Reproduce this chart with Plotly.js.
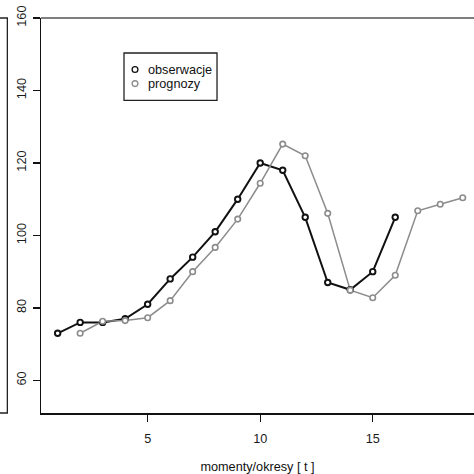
<!DOCTYPE html>
<html>
<head>
<meta charset="utf-8">
<script src="https://cdn.plot.ly/plotly-3.0.1.min.js"></script>
<style>html,body{margin:0;padding:0;background:#fff;}#chart{width:474px;height:474px;}</style>
</head>
<body>
<div id="chart"></div>
<script>
var obsT = [1,2,3,4,5,6,7,8,9,10,11,12,13,14,15,16];
var obsV = [73,76,76,77,81,88,94,101,110,120,118,105,87,85,90,105];
var progT = [2,3,4,5,6,7,8,9,10,11,12,13,14,15,16,17,18,19];
var progV = [73,76.3,76.5,77.3,82,90,96.7,104.5,114.4,125.2,122,106.1,84.9,82.8,89,106.8,108.6,110.4];
var seriesNames = ['obserwacje','prognozy'];
var xTicks = [5,10,15];
var yTicks = [60,80,100,120,140,160];
var xTitle = 'momenty/okresy [ t ]';

var black = '#111111', grey = '#8c8c8c';
var colors = [black, grey];
var traces = [
  {x: obsT, y: obsV, mode: 'lines', line: {color: black, width: 2}, hoverinfo: 'skip'},
  {x: progT, y: progV, mode: 'lines', line: {color: grey, width: 1.5}, hoverinfo: 'skip'},
  {x: obsT, y: obsV, mode: 'markers', name: seriesNames[0],
   marker: {symbol: 'circle', size: 5.5, color: '#fff', line: {color: black, width: 1.9}}},
  {x: progT, y: progV, mode: 'markers', name: seriesNames[1],
   marker: {symbol: 'circle', size: 5.5, color: '#fff', line: {color: grey, width: 1.6}}}
];

var fam = 'Liberation Sans, Arial, sans-serif';
var fnt = {family: fam, size: 12.7, color: '#1a1a1a'};

// manual R-style legend (paper coordinates)
var legX0 = 0.1917, legX1 = 0.4065, legY0 = 0.7916, legY1 = 0.9114;
var legSymX = 0.2171, legTxtX = 0.2436, legRows = [0.8694, 0.8339];
var rx = 0.0067, ry = 0.0073;
var shapes = [
  {type: 'line', xref: 'paper', yref: 'paper', x0: 0, x1: 1, y0: 1, y1: 1,
   line: {color: '#555', width: 1.6}},
  {type: 'path', xref: 'paper', yref: 'paper',
   path: 'M -0.11,1 L -0.0777,1 L -0.0777,0 L -0.11,0',
   line: {color: '#222', width: 1.3}},
  {type: 'rect', xref: 'paper', yref: 'paper', x0: legX0, x1: legX1, y0: legY0, y1: legY1,
   line: {color: '#222', width: 1.3}, fillcolor: '#fff', layer: 'above'}
];
var annotations = [];
seriesNames.forEach(function (nm, i) {
  shapes.push({type: 'circle', xref: 'paper', yref: 'paper',
    x0: legSymX - rx, x1: legSymX + rx, y0: legRows[i] - ry, y1: legRows[i] + ry,
    line: {color: colors[i], width: 1.3}, layer: 'above'});
  annotations.push({xref: 'paper', yref: 'paper', x: legTxtX, y: legRows[i],
    xanchor: 'left', yanchor: 'middle', showarrow: false, text: nm,
    font: {family: fam, size: 12.7, color: '#111'}});
});

var layout = {
  width: 474, height: 474,
  margin: {l: 41, r: 0, t: 18, b: 61, pad: 0},
  paper_bgcolor: '#fff', plot_bgcolor: '#fff',
  font: fnt,
  showlegend: false,
  xaxis: {range: [0.26, 19.5], tickvals: xTicks, ticktext: xTicks.map(String),
    showgrid: false, zeroline: false, showline: true, linecolor: '#111', linewidth: 1.5,
    ticks: 'outside', ticklen: 7, tickwidth: 1.3, tickcolor: '#111',
    ticklabelstandoff: 6,
    title: {text: xTitle, font: {family: fam, size: 12.7, color: '#111'}, standoff: 18}},
  yaxis: {range: [51, 160], tickvals: yTicks, ticktext: yTicks.map(String),
    showgrid: false, zeroline: false, showline: true, linecolor: '#111', linewidth: 1.5,
    ticks: 'outside', ticklen: 7, tickwidth: 1.3, tickcolor: '#111', tickangle: -90,
    ticklabelstandoff: 1},
  shapes: shapes,
  annotations: annotations
};
Plotly.newPlot('chart', traces, layout, {displayModeBar: false, staticPlot: true});
</script>
</body>
</html>
